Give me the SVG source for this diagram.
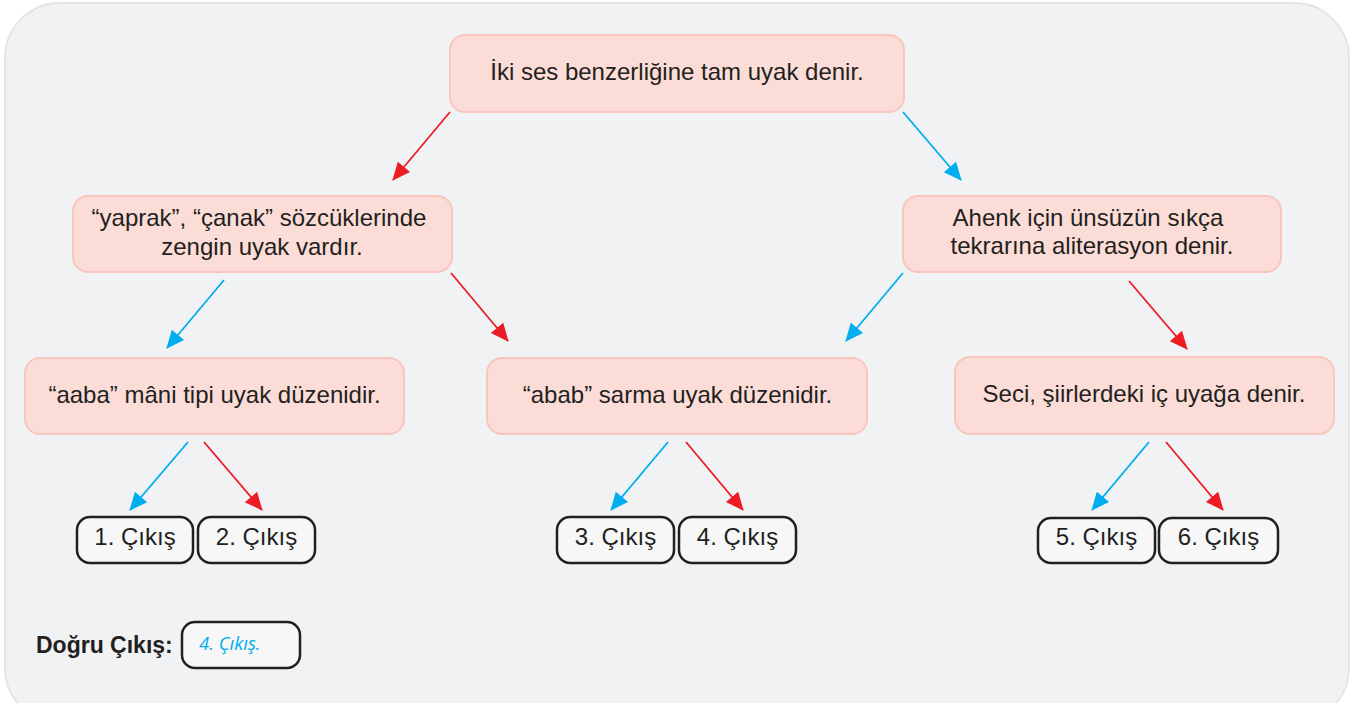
<svg xmlns="http://www.w3.org/2000/svg" width="1355" height="703" viewBox="0 0 1355 703">
<style>
.node rect{fill:#fbdcd7;stroke:#f9c6be;stroke-width:2}
.node text{font-family:"Liberation Sans",Arial,sans-serif;font-size:24px;fill:#231f20;text-anchor:middle}
.out rect{fill:#f7f7f8;stroke:#231f20;stroke-width:2.5}
.out text{font-family:"Liberation Sans",Arial,sans-serif;font-size:24px;fill:#231f20;text-anchor:middle}
.red{stroke:#ed1c24;stroke-width:1.8;fill:none;marker-end:url(#ar)}
.blue{stroke:#00aeef;stroke-width:1.8;fill:none;marker-end:url(#ab)}
</style>
<defs>
<marker id="ar" viewBox="0 0 10 10" refX="9" refY="5" markerWidth="10" markerHeight="10" markerUnits="userSpaceOnUse" orient="auto" overflow="visible">
<path d="M-8,-3 L10,5 L-8,13 Z" fill="#ed1c24"/>
</marker>
<marker id="ab" viewBox="0 0 10 10" refX="9" refY="5" markerWidth="10" markerHeight="10" markerUnits="userSpaceOnUse" orient="auto" overflow="visible">
<path d="M-8,-3 L10,5 L-8,13 Z" fill="#00aeef"/>
</marker>
</defs>
<rect width="1355" height="703" fill="#ffffff"/>
<rect id="panel" x="5" y="3" width="1344" height="720" rx="55" fill="#f1f2f4" stroke="#e4e5e8" stroke-width="2"/>
<g id="connectors">
<line class="red" x1="450" y1="112" x2="393" y2="180"/>
<line class="blue" x1="903" y1="112" x2="961" y2="180"/>
<line class="blue" x1="224" y1="280" x2="167" y2="348"/>
<line class="red" x1="451" y1="273" x2="508" y2="341"/>
<line class="blue" x1="903" y1="273" x2="846" y2="341"/>
<line class="red" x1="1129" y1="281" x2="1187" y2="349"/>
<line class="blue" x1="188" y1="442" x2="130" y2="510"/>
<line class="red" x1="204" y1="442" x2="262" y2="510"/>
<line class="blue" x1="668" y1="442" x2="611" y2="510"/>
<line class="red" x1="686" y1="442" x2="743" y2="510"/>
<line class="blue" x1="1149" y1="442" x2="1092" y2="510"/>
<line class="red" x1="1166" y1="442" x2="1223" y2="510"/>
</g>
<g id="n-top" class="node"><rect x="450" y="35" width="454" height="77" rx="15"/><text x="677" y="80">İki ses benzerliğine tam uyak denir.</text></g>
<g id="n-yaprak" class="node"><rect x="73" y="196" width="379" height="76" rx="15"/><text x="259" y="226">“yaprak”, “çanak” sözcüklerinde</text><text x="262" y="255">zengin uyak vardır.</text></g>
<g id="n-ahenk" class="node"><rect x="903" y="196" width="378" height="76" rx="15"/><text x="1088" y="226">Ahenk için ünsüzün sıkça</text><text x="1092" y="254">tekrarına aliterasyon denir.</text></g>
<g id="n-aaba" class="node"><rect x="25" y="358" width="379" height="76" rx="15"/><text x="214.5" y="403">“aaba” mâni tipi uyak düzenidir.</text></g>
<g id="n-abab" class="node"><rect x="487" y="358" width="380" height="76" rx="15"/><text x="677.5" y="403">“abab” sarma uyak düzenidir.</text></g>
<g id="n-seci" class="node"><rect x="955" y="357" width="379" height="77" rx="15"/><text x="1144" y="402">Seci, şiirlerdeki iç uyağa denir.</text></g>
<g id="o1" class="out"><rect x="77" y="517" width="116" height="46" rx="13"/><text x="135" y="545">1. Çıkış</text></g>
<g id="o2" class="out"><rect x="198" y="517" width="117" height="46" rx="13"/><text x="256.5" y="545">2. Çıkış</text></g>
<g id="o3" class="out"><rect x="557" y="517" width="117" height="46" rx="13"/><text x="615.5" y="545">3. Çıkış</text></g>
<g id="o4" class="out"><rect x="679" y="517" width="117" height="46" rx="13"/><text x="737.5" y="545">4. Çıkış</text></g>
<g id="o5" class="out"><rect x="1038" y="518" width="117" height="45" rx="13"/><text x="1096.5" y="545">5. Çıkış</text></g>
<g id="o6" class="out"><rect x="1159" y="518" width="119" height="45" rx="13"/><text x="1218.5" y="545">6. Çıkış</text></g>
<g id="answer">
<text x="36" y="653" font-family="'Liberation Sans',Arial,sans-serif" font-weight="bold" font-size="23px" fill="#231f20">Doğru Çıkış:</text>
<rect x="182" y="622" width="118" height="46" rx="13" fill="#f7f7f8" stroke="#231f20" stroke-width="2.5"/>
<text x="199" y="650" font-family="'Open Sans',sans-serif" font-style="italic" font-size="18.5px" fill="#00aeef">4. Çıkış.</text>
</g>
</svg>
